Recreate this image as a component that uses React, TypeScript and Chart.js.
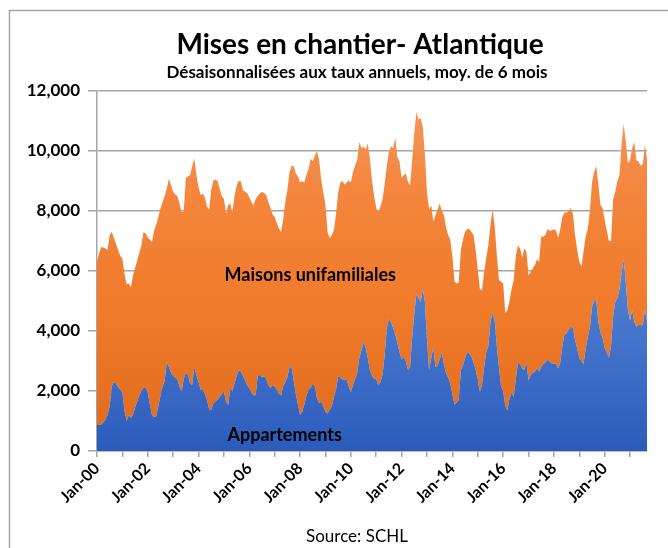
import React, { useEffect, useRef } from 'react';
import { Chart, registerables } from 'chart.js';

Chart.register(...registerables);

// Monthly values, Jan-2000 .. Sep-2021 (6-month moving average, SAAR)
const appartements = [
  870, 870, 880, 950, 1050, 1200, 1500, 2150, 2300, 2250,
  2120, 2050, 1950, 1350, 1000, 1200, 1100, 1200, 1450, 1650,
  1850, 2000, 2120, 2100, 1950, 1550, 1200, 1130, 1160, 1500,
  1850, 2150, 2350, 2970, 2800, 2620, 2500, 2450, 2400, 2150,
  1980, 2400, 2600, 2550, 2250, 2200, 2800, 2530, 2300, 2050,
  2030, 1900, 1700, 1400, 1370, 1590, 1650, 1720, 1800, 1900,
  1980, 1640, 1530, 2090, 1980, 2250, 2500, 2700, 2650, 2500,
  2360, 2200, 2090, 1950, 1860, 1860, 2500, 2550, 2450, 2500,
  2400, 2200, 2090, 2200, 2140, 2050, 1920, 1850, 2150, 2300,
  2470, 2800, 2780, 2350, 1900, 1550, 1200, 1300, 1550, 1850,
  2030, 2110, 2250, 2150, 1750, 1600, 1650, 1500, 1300, 1250,
  1380, 1480, 1800, 2050, 2500, 2450, 2380, 2360, 2400, 2150,
  1950, 2200, 2400, 2600, 3100, 3350, 3640, 3450, 3100, 2700,
  2500, 2420, 2400, 2200, 2300, 2550, 3200, 4100, 4400, 4300,
  4100, 3900, 3600, 3300, 3050, 3150, 3000, 2700, 2800, 3800,
  4600, 5250, 5080, 4970, 5400, 5000, 3700, 2700, 3100, 3450,
  2800, 2850, 3050, 3280, 2900, 2600, 2450, 2250, 1900, 1540,
  1620, 1700, 2700, 2850, 3100, 3300, 3250, 3150, 2950, 2700,
  2400, 1950, 2200, 2800, 3300, 3500, 4300, 4620, 4350, 3500,
  2800, 2180, 2000, 1500, 1350, 1750, 1950, 1800, 2400, 2950,
  2900, 2750, 2700, 2950, 2350, 2530, 2600, 2650, 2750, 2650,
  2800, 2900, 2950, 3050, 2980, 2920, 2920, 2900, 2750, 2950,
  3500, 3900, 3920, 4050, 4150, 4100, 3700, 3420, 3100, 3000,
  2900, 3400, 3800, 4100, 4800, 5000, 5050, 4300, 3950, 3780,
  3450, 3280, 3100, 3500, 4500, 4970, 5100, 5400, 5950, 6400,
  5600, 4700, 4350, 4700, 4300, 4150, 4200, 4200, 4180, 4700,
  4350,
];

const maisonsUnifamiliales = [
  5430, 5730, 5920, 5830, 5700, 5500, 5700, 5150, 4800, 4650,
  4580, 4450, 4470, 4550, 4560, 4380, 4350, 4650, 4650, 4700,
  4750, 4850, 5180, 5150, 5170, 5500, 5770, 6220, 6390, 6300,
  6230, 6150, 6150, 5780, 6280, 6230, 6150, 6100, 6100, 6100,
  5970, 5600, 6500, 6600, 6950, 7300, 6950, 6670, 6500, 6480,
  6550, 6550, 6450, 6630, 7330, 7430, 7400, 7280, 6950, 6600,
  6420, 6270, 6660, 6160, 5970, 6250, 6350, 6300, 6340, 6200,
  6280, 6400, 6360, 6350, 6330, 6540, 6000, 6030, 6190, 6100,
  6130, 6100, 6010, 5680, 5660, 5550, 5500, 5450, 5550, 6000,
  6230, 6500, 6720, 7150, 7350, 7600, 7750, 7700, 7400, 7350,
  7370, 7640, 7400, 7710, 8240, 8100, 7400, 7100, 6900, 6050,
  5700, 5710, 5560, 5850, 6100, 6500, 6620, 6520, 6550, 6870,
  7000, 7100, 7120, 7090, 7200, 6750, 6510, 6600, 7150, 7050,
  6500, 6080, 5700, 5770, 5850, 5850, 5700, 5400, 5600, 5850,
  6000, 6550, 6200, 6350, 6050, 6050, 6250, 6270, 6060, 5900,
  6000, 6050, 5970, 6130, 5400, 4900, 4900, 5350, 5090, 4200,
  5060, 5200, 5200, 4720, 4960, 4850, 4750, 4800, 4600, 4110,
  3960, 3920, 4000, 4200, 4200, 4100, 4150, 4150, 4250, 4000,
  3650, 3450, 3150, 3150, 3150, 3350, 3250, 3430, 3150, 3050,
  2900, 3460, 3580, 3100, 3350, 3250, 3450, 3900, 4100, 3900,
  3850, 3700, 4050, 3690, 3500, 3440, 3480, 3550, 3650, 3650,
  4350, 4240, 4250, 4360, 4350, 4440, 4460, 4450, 4350, 4450,
  4300, 4050, 4030, 3950, 3950, 3800, 3500, 3280, 3220, 3150,
  3750, 3750, 3600, 3900, 4150, 4300, 4450, 4600, 4250, 4320,
  4250, 4070, 3900, 3500, 3900, 3670, 3890, 3800, 4300, 4500,
  4700, 4900, 5350, 5400, 6000, 5540, 5450, 5320, 5370, 5500,
  5400,
];

const xTickLabels = [
  'Jan-00', 'Jan-02', 'Jan-04', 'Jan-06', 'Jan-08', 'Jan-10',
  'Jan-12', 'Jan-14', 'Jan-16', 'Jan-18', 'Jan-20',
];
const yTickValues = [0, 2000, 4000, 6000, 8000, 10000, 12000];
const seriesNames = ['Appartements', 'Maisons unifamiliales'];

const TITLE = 'Mises en chantier- Atlantique';
const SUBTITLE = 'Désaisonnalisées aux taux annuels, moy. de 6 mois';
const SOURCE = 'Source: SCHL';
const FONT = 'Lato, "Open Sans", sans-serif';

const decorPlugin = {
  id: 'decor',
  beforeDraw(chart: any) {
    const c = chart.ctx;
    c.save();
    c.fillStyle = '#ffffff';
    c.fillRect(0, 0, chart.width, chart.height);
    c.strokeStyle = '#a6a6a6';
    c.lineWidth = 1.5;
    c.strokeRect(9.5, 10.5, chart.width + 20, chart.height + 20);
    c.fillStyle = '#000000';
    c.textAlign = 'center';
    c.textBaseline = 'middle';
    c.font = `bold 28px ${FONT}`;
    c.fillText(TITLE, 360, 45);
    c.font = `bold 17px ${FONT}`;
    c.fillText(SUBTITLE, 357, 73);
    c.font = `17px ${FONT}`;
    c.fillText(SOURCE, 357, 537);
    c.restore();
  },
  afterDatasetsDraw(chart: any) {
    const c = chart.ctx;
    const xs = chart.scales.x;
    const ys = chart.scales.y;
    c.save();
    c.fillStyle = '#000000';
    c.textAlign = 'center';
    c.textBaseline = 'middle';
    c.font = `bold 18px ${FONT}`;
    c.fillText(seriesNames[1], xs.getPixelForValue(100.8), ys.getPixelForValue(5870));
    c.fillText(seriesNames[0], xs.getPixelForValue(88.7), ys.getPixelForValue(530));
    c.restore();
  },
};

function orangeFill(ctx: any) {
  const { chart } = ctx;
  const area = chart.chartArea;
  if (!area) return '#f07c2a';
  const g = chart.ctx.createLinearGradient(0, area.top, 0, area.bottom);
  g.addColorStop(0, '#f5965e');
  g.addColorStop(0.3, '#f4853c');
  g.addColorStop(0.6, '#f07b2a');
  g.addColorStop(1, '#e06a1c');
  return g;
}

function blueFill(ctx: any) {
  const { chart } = ctx;
  const area = chart.chartArea;
  if (!area) return '#3f6fcc';
  const top = chart.scales.y.getPixelForValue(6500);
  const g = chart.ctx.createLinearGradient(0, top, 0, area.bottom);
  g.addColorStop(0, '#5585d6');
  g.addColorStop(1, '#2c5cbb');
  return g;
}

export default function App() {
  const ref = useRef<HTMLCanvasElement | null>(null);

  useEffect(() => {
    if (!ref.current) return;
    const chart = new Chart(ref.current, {
      type: 'line',
      data: {
        datasets: [
          {
            label: seriesNames[0],
            data: appartements.map((v, i) => ({ x: i, y: v })),
            backgroundColor: blueFill,
            borderWidth: 0,
            pointRadius: 0,
            fill: 'origin',
            tension: 0,
          },
          {
            label: seriesNames[1],
            data: maisonsUnifamiliales.map((v, i) => ({ x: i, y: v })),
            backgroundColor: orangeFill,
            borderWidth: 0,
            pointRadius: 0,
            fill: '-1',
            tension: 0,
          },
        ],
      },
      plugins: [decorPlugin],
      options: {
        responsive: false,
        animation: false,
        devicePixelRatio: 1,
        layout: { padding: { left: 0, right: 21, top: 91, bottom: 0 } },
        plugins: {
          legend: { display: false },
          tooltip: { enabled: false },
          title: { display: false },
        },
        scales: {
          x: {
            type: 'linear',
            min: 0,
            max: appartements.length - 1,
            ticks: {
              stepSize: 12,
              includeBounds: false,
              autoSkip: false,
              maxRotation: 45,
              minRotation: 45,
              padding: 2,
              color: '#000000',
              font: { family: FONT, size: 16, weight: 'bold' },
              callback: (v: any) => (v % 24 === 0 ? xTickLabels[v / 24] : ''),
            },
            grid: {
              drawOnChartArea: false,
              drawTicks: true,
              tickLength: 6,
              color: '#a6a6a6',
              lineWidth: 1.5,
            },
            border: { color: '#a6a6a6', width: 1.5 },
            afterFit: (s: any) => {
              s.height = 97;
            },
          },
          y: {
            stacked: true,
            min: yTickValues[0],
            max: yTickValues[yTickValues.length - 1],
            afterBuildTicks: (s: any) => {
              s.ticks = yTickValues.map((v) => ({ value: v }));
            },
            ticks: {
              padding: 8,
              color: '#000000',
              font: { family: FONT, size: 17, weight: 'bold' },
              callback: (v: any) => Number(v).toLocaleString('en-US'),
            },
            grid: {
              color: '#a6a6a6',
              lineWidth: 1.5,
              tickLength: 9,
            },
            border: { color: '#a6a6a6', width: 1.5 },
            afterFit: (s: any) => {
              s.width = 97;
            },
          },
        },
      },
    });
    return () => chart.destroy();
  }, []);

  return (
    <div style={{ position: 'absolute', left: 0, top: 0, width: 668, height: 548, background: '#fff' }}>
      <canvas ref={ref} width={668} height={548} style={{ display: 'block' }} />
    </div>
  );
}
